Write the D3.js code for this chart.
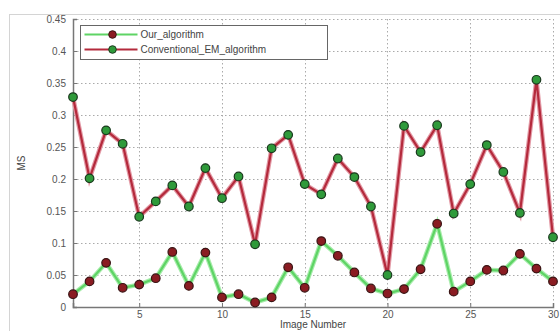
<!DOCTYPE html>
<html>
<head>
<meta charset="utf-8">
<script src="https://cdn.jsdelivr.net/npm/d3@7"></script>
<style>
  body { margin: 0; background: #fff; }
  svg { display: block; font-family: "Liberation Sans", Arial, sans-serif; }
</style>
</head>
<body>
<div id="chart"></div>
<script>
// image index 1..30
const imageNumbers = d3.range(1, 31);

const ourAlgorithm = [
  0.020, 0.040, 0.069, 0.030, 0.035, 0.045, 0.086, 0.033, 0.085, 0.015,
  0.020, 0.007, 0.015, 0.062, 0.030, 0.103, 0.080, 0.054, 0.029, 0.021,
  0.028, 0.059, 0.130, 0.024, 0.040, 0.058, 0.057, 0.083, 0.060, 0.040
];

const conventionalEM = [
  0.328, 0.201, 0.276, 0.255, 0.141, 0.165, 0.190, 0.157, 0.217, 0.170,
  0.204, 0.098, 0.248, 0.269, 0.192, 0.176, 0.232, 0.203, 0.157, 0.050,
  0.283, 0.242, 0.284, 0.146, 0.192, 0.253, 0.211, 0.147, 0.355, 0.109
];

const xTicks = [5, 10, 15, 20, 25, 30];
const yTicks = [0, 0.05, 0.1, 0.15, 0.2, 0.25, 0.3, 0.35, 0.4, 0.45];
const legendLabels = ['Our_algorithm', 'Conventional_EM_algorithm'];

const W = 560, H = 331;
const margin = { top: 19, right: 7, bottom: 24, left: 73 };
const width = W - margin.left - margin.right;
const height = H - margin.top - margin.bottom;

const svg = d3.select('#chart').append('svg')
  .attr('width', W)
  .attr('height', H);

// figure frame
svg.append('rect')
  .attr('x', 9.5).attr('y', 14.5)
  .attr('width', W).attr('height', H)
  .attr('fill', 'none')
  .attr('stroke', '#d4d4d4');

const g = svg.append('g')
  .attr('transform', `translate(${margin.left},${margin.top})`);

const x = d3.scaleLinear().domain([1, 30]).range([0, width]);
const y = d3.scaleLinear().domain([0, 0.45]).range([height, 0]);

// grid
g.append('g')
  .selectAll('line')
  .data(yTicks.filter(d => d > 0))
  .join('line')
  .attr('x1', 0).attr('x2', width)
  .attr('y1', d => Math.round(y(d)) + 0.5)
  .attr('y2', d => Math.round(y(d)) + 0.5)
  .attr('stroke', '#aaa')
  .attr('stroke-dasharray', '1.5,2.5');

g.append('g')
  .selectAll('line')
  .data(xTicks)
  .join('line')
  .attr('x1', d => Math.round(x(d)) + 0.5)
  .attr('x2', d => Math.round(x(d)) + 0.5)
  .attr('y1', 0).attr('y2', height)
  .attr('stroke', '#aaa')
  .attr('stroke-dasharray', '1.5,2.5');

// axes
const yAxis = g.append('g')
  .call(d3.axisLeft(y).tickValues(yTicks).tickSize(-4).tickPadding(7)
    .tickFormat(d => d === 0 ? '0' : String(+d.toFixed(2))));
const xAxis = g.append('g')
  .attr('transform', `translate(0,${height})`)
  .call(d3.axisBottom(x).tickValues(xTicks).tickSize(-4).tickPadding(4));

[xAxis, yAxis].forEach(a => {
  a.select('.domain').attr('stroke', '#777').attr('stroke-width', 1.5);
  a.selectAll('.tick line').attr('stroke', '#777');
  a.selectAll('text').attr('fill', '#555').style('font-size', '10px');
});

// axis labels
g.append('text')
  .attr('x', width / 2)
  .attr('y', height + 21)
  .attr('text-anchor', 'middle')
  .attr('fill', '#444')
  .style('font-size', '10px')
  .text('Image Number');

g.append('text')
  .attr('transform', `translate(${-48},${height / 2}) rotate(-90)`)
  .attr('text-anchor', 'middle')
  .attr('fill', '#444')
  .style('font-size', '10px')
  .text('MS');

const line = d3.line()
  .x((d, i) => x(imageNumbers[i]))
  .y(d => y(d));

// conventional EM: red line, green markers
g.append('path')
  .datum(conventionalEM)
  .attr('fill', 'none')
  .attr('stroke', '#e39aa6')
  .attr('stroke-width', 4.5)
  .attr('d', line);
g.append('path')
  .datum(conventionalEM)
  .attr('fill', 'none')
  .attr('stroke', '#b42a3c')
  .attr('stroke-width', 2.2)
  .attr('d', line);

// our algorithm: green line, dark red markers
g.append('path')
  .datum(ourAlgorithm)
  .attr('fill', 'none')
  .attr('stroke', '#a8ecac')
  .attr('stroke-width', 4.5)
  .attr('d', line);
g.append('path')
  .datum(ourAlgorithm)
  .attr('fill', 'none')
  .attr('stroke', '#5ed465')
  .attr('stroke-width', 2.2)
  .attr('d', line);

g.append('g')
  .selectAll('circle')
  .data(conventionalEM)
  .join('circle')
  .attr('cx', (d, i) => x(imageNumbers[i]))
  .attr('cy', d => y(d))
  .attr('r', 4.3)
  .attr('fill', '#2f9a3a')
  .attr('stroke', '#1a3a1e')
  .attr('stroke-width', 1.2);

g.append('g')
  .selectAll('circle')
  .data(ourAlgorithm)
  .join('circle')
  .attr('cx', (d, i) => x(imageNumbers[i]))
  .attr('cy', d => y(d))
  .attr('r', 4.3)
  .attr('fill', '#8a1c22')
  .attr('stroke', '#3a1414')
  .attr('stroke-width', 1.2);

// legend
const legend = svg.append('g').attr('transform', 'translate(80.5,25.5)');
legend.append('rect')
  .attr('width', 247).attr('height', 34)
  .attr('fill', '#fff')
  .attr('stroke', '#666');

const legendStyles = [
  { line: '#5ed465', marker: '#8a1c22', edge: '#3a1414' },
  { line: '#b42a3c', marker: '#2f9a3a', edge: '#1a3a1e' }
];

legendLabels.forEach((label, i) => {
  const row = legend.append('g').attr('transform', `translate(0,${9 + i * 15})`);
  row.append('line')
    .attr('x1', 4).attr('x2', 57)
    .attr('stroke', legendStyles[i].line)
    .attr('stroke-width', 1.8);
  row.append('circle')
    .attr('cx', 32).attr('r', 3.8)
    .attr('fill', legendStyles[i].marker)
    .attr('stroke', legendStyles[i].edge);
  row.append('text')
    .attr('x', 60).attr('dy', '0.35em')
    .attr('fill', '#444')
    .style('font-size', '10px')
    .text(label);
});
</script>
</body>
</html>
